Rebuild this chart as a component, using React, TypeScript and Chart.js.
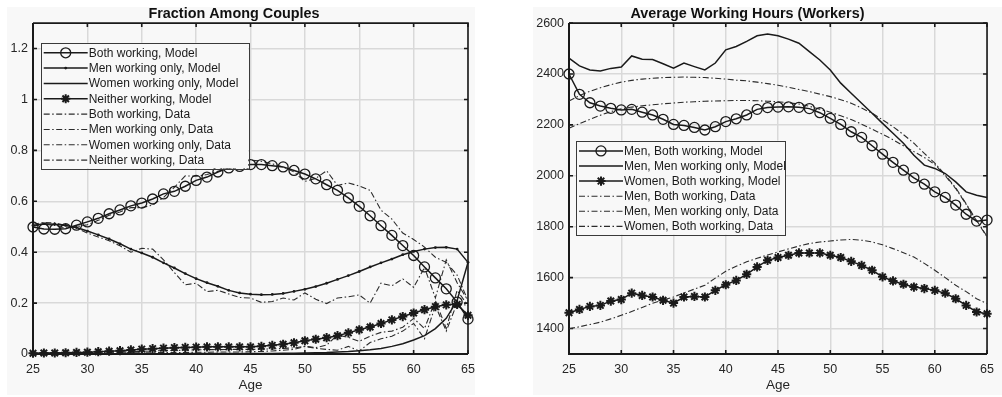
import React, { useEffect, useRef } from 'react';
import { Chart, registerables } from 'chart.js';

Chart.register(...registerables);

// ---------- data ----------
const AGES = [25,26,27,28,29,30,31,32,33,34,35,36,37,38,39,40,41,42,43,44,45,46,47,48,49,50,51,52,53,54,55,56,57,58,59,60,61,62,63,64,65];
const X_TICKS = [25,30,35,40,45,50,55,60,65];
const LEFT_Y_TICKS = [0,0.2,0.4,0.6,0.8,1,1.2];
const RIGHT_Y_TICKS = [1400,1600,1800,2000,2200,2400,2600];

const LEFT_TITLE = 'Fraction Among Couples';
const RIGHT_TITLE = 'Average Working Hours (Workers)';
const X_TITLE = 'Age';

// Left panel: fractions
const bothWorkingModel = [0.499,0.491,0.490,0.492,0.506,0.519,0.533,0.551,0.566,0.582,0.593,0.609,0.629,0.639,0.659,0.682,0.695,0.715,0.731,0.737,0.744,0.744,0.740,0.735,0.721,0.707,0.688,0.665,0.643,0.613,0.580,0.543,0.504,0.466,0.426,0.387,0.342,0.299,0.256,0.204,0.137];
const menOnlyModel = [0.505,0.512,0.510,0.505,0.497,0.483,0.468,0.452,0.433,0.412,0.397,0.380,0.358,0.338,0.316,0.296,0.280,0.266,0.250,0.240,0.235,0.233,0.234,0.238,0.246,0.254,0.265,0.278,0.293,0.308,0.324,0.342,0.358,0.373,0.390,0.403,0.412,0.418,0.419,0.412,0.360];
const womenOnlyModel = [0.001,0.001,0.001,0.001,0.001,0.001,0.001,0.001,0.001,0.001,0.001,0.001,0.001,0.001,0.002,0.002,0.002,0.002,0.002,0.002,0.002,0.002,0.002,0.003,0.003,0.004,0.005,0.006,0.008,0.010,0.013,0.017,0.022,0.030,0.040,0.055,0.072,0.100,0.140,0.210,0.360];
const neitherModel = [0.003,0.004,0.004,0.005,0.006,0.007,0.009,0.011,0.013,0.016,0.019,0.021,0.023,0.025,0.026,0.027,0.028,0.028,0.028,0.028,0.028,0.030,0.034,0.038,0.044,0.052,0.058,0.064,0.072,0.083,0.095,0.106,0.120,0.134,0.147,0.161,0.174,0.186,0.193,0.195,0.152];
const bothWorkingData = [0.502,0.510,0.505,0.495,0.500,0.508,0.525,0.545,0.558,0.575,0.575,0.585,0.615,0.655,0.700,0.698,0.705,0.718,0.728,0.745,0.762,0.757,0.747,0.735,0.715,0.678,0.690,0.720,0.662,0.672,0.660,0.643,0.565,0.530,0.475,0.450,0.420,0.380,0.360,0.310,0.210];
const menOnlyData = [0.510,0.517,0.515,0.505,0.495,0.475,0.460,0.445,0.425,0.400,0.415,0.412,0.370,0.320,0.272,0.278,0.245,0.250,0.236,0.222,0.220,0.203,0.206,0.220,0.212,0.240,0.215,0.198,0.220,0.225,0.232,0.200,0.278,0.268,0.295,0.262,0.340,0.220,0.370,0.280,0.210];
const womenOnlyData = [0.002,0.002,0.003,0.003,0.003,0.003,0.004,0.004,0.004,0.005,0.005,0.005,0.006,0.006,0.006,0.007,0.007,0.008,0.008,0.008,0.009,0.010,0.012,0.015,0.018,0.030,0.025,0.035,0.075,0.065,0.050,0.070,0.085,0.090,0.105,0.140,0.100,0.210,0.100,0.250,0.190];
const neitherData = [0.002,0.003,0.003,0.004,0.004,0.005,0.006,0.007,0.008,0.009,0.010,0.012,0.013,0.014,0.015,0.016,0.017,0.017,0.018,0.018,0.018,0.019,0.020,0.022,0.024,0.030,0.022,0.018,0.015,0.030,0.012,0.045,0.060,0.070,0.090,0.120,0.060,0.190,0.090,0.200,0.190];

// Right panel: hours
const menBothModel = [2400,2320,2287,2274,2265,2259,2261,2250,2239,2222,2202,2198,2190,2180,2193,2213,2224,2239,2261,2268,2270,2271,2269,2264,2248,2226,2202,2173,2151,2118,2085,2053,2022,1992,1967,1937,1915,1885,1849,1822,1826];
const menMenOnlyModel = [2462,2432,2416,2412,2422,2427,2471,2458,2457,2440,2423,2443,2429,2416,2443,2495,2508,2528,2550,2557,2550,2537,2521,2488,2455,2416,2364,2324,2285,2246,2206,2167,2128,2081,2042,2029,2009,1976,1937,1924,1915];
const womenBothModel = [1462,1475,1487,1491,1508,1514,1539,1530,1524,1511,1500,1524,1526,1524,1550,1572,1589,1613,1642,1668,1679,1688,1697,1697,1697,1688,1679,1664,1648,1629,1603,1587,1574,1563,1557,1550,1539,1517,1491,1465,1458];
const menBothData = [2187,2205,2222,2238,2252,2263,2270,2275,2279,2283,2286,2289,2291,2293,2294,2295,2296,2296,2295,2293,2291,2287,2282,2273,2262,2250,2236,2221,2203,2183,2163,2142,2118,2095,2072,2045,2000,1950,1888,1823,1760];
const menMenOnlyData = [2294,2315,2332,2346,2358,2368,2375,2380,2383,2386,2387,2388,2387,2386,2383,2380,2376,2373,2368,2362,2356,2348,2339,2331,2321,2311,2299,2285,2266,2246,2220,2193,2162,2128,2088,2050,2003,1953,1890,1825,1762];
const womenBothData = [1399,1407,1416,1425,1438,1452,1467,1483,1499,1512,1524,1540,1555,1570,1598,1625,1645,1662,1676,1689,1701,1713,1724,1734,1740,1744,1748,1750,1747,1740,1729,1714,1698,1681,1656,1629,1600,1570,1545,1517,1498];

// ---------- styles ----------
const FONT = "'Liberation Sans', Arial, Helvetica, sans-serif";
const PANEL_BG = '#f8f8f8';
const GRID = '#d9d9d9';
const TXT = '#262626';
const LINE = '#1a1a1a';
const DATA_LINE = '#2b2b2b';
const DASHDOT = [6, 2.5, 1.5, 2.5];

type Mk = 'o' | '.' | '*' | '';

const pts = (vals: number[]) => AGES.map((a, i) => ({ x: a, y: vals[i] }));

function modelSet(label: string, vals: number[], mk: Mk) {
  const base: any = {
    label,
    data: pts(vals),
    mk,
    borderColor: LINE,
    borderWidth: 1.5,
    tension: 0,
    clip: 8,
    pointRadius: 0,
    pointHoverRadius: 0,
  };
  if (mk === 'o') {
    Object.assign(base, { pointStyle: 'circle', pointRadius: 5, pointBorderWidth: 1.3, pointBorderColor: LINE, pointBackgroundColor: 'rgba(0,0,0,0)' });
  } else if (mk === '.') {
    Object.assign(base, { pointStyle: 'circle', pointRadius: 1.4, pointBorderWidth: 0, pointBackgroundColor: LINE });
  } else if (mk === '*') {
    Object.assign(base, { pointStyle: 'star', pointRadius: 4.6, pointBorderWidth: 2, pointBorderColor: LINE, pointBackgroundColor: LINE });
  }
  return base;
}

function dataSet(label: string, vals: number[]) {
  return {
    label,
    data: pts(vals),
    mk: '' as Mk,
    borderColor: DATA_LINE,
    borderWidth: 1.1,
    borderDash: DASHDOT,
    tension: 0,
    clip: 4,
    pointRadius: 0,
    pointHoverRadius: 0,
  };
}

function drawMarker(ctx: CanvasRenderingContext2D, mk: Mk, x: number, y: number) {
  ctx.save();
  ctx.setLineDash([]);
  ctx.strokeStyle = LINE;
  ctx.fillStyle = LINE;
  if (mk === 'o') {
    ctx.lineWidth = 1.3;
    ctx.beginPath();
    ctx.arc(x, y, 5, 0, Math.PI * 2);
    ctx.stroke();
  } else if (mk === '.') {
    ctx.beginPath();
    ctx.arc(x, y, 1.4, 0, Math.PI * 2);
    ctx.fill();
  } else if (mk === '*') {
    const r = 4.6;
    const d = r * Math.SQRT1_2;
    ctx.lineWidth = 2;
    ctx.beginPath();
    ctx.moveTo(x - r, y); ctx.lineTo(x + r, y);
    ctx.moveTo(x, y - r); ctx.lineTo(x, y + r);
    ctx.moveTo(x - d, y - d); ctx.lineTo(x + d, y + d);
    ctx.moveTo(x - d, y + d); ctx.lineTo(x + d, y - d);
    ctx.stroke();
  }
  ctx.restore();
}

const framePlugin = {
  id: 'matlabFrame',
  beforeDatasetsDraw(chart: any) {
    const { ctx, chartArea, scales } = chart;
    const { left, right, top, bottom } = chartArea;
    ctx.save();
    ctx.strokeStyle = LINE;
    ctx.setLineDash([]);
    ctx.lineWidth = 1.6;
    ctx.beginPath();
    ctx.moveTo(left, top); ctx.lineTo(right, top); ctx.lineTo(right, bottom);
    ctx.stroke();
    ctx.lineWidth = 2;
    ctx.beginPath();
    ctx.moveTo(left, top); ctx.lineTo(left, bottom); ctx.lineTo(right, bottom);
    ctx.stroke();
    ctx.lineWidth = 1.6;
    ctx.beginPath();
    const tl = 4;
    scales.x.ticks.forEach((t: any) => {
      const px = scales.x.getPixelForValue(t.value);
      ctx.moveTo(px, bottom); ctx.lineTo(px, bottom - tl);
      ctx.moveTo(px, top); ctx.lineTo(px, top + tl);
    });
    scales.y.ticks.forEach((t: any) => {
      const py = scales.y.getPixelForValue(t.value);
      ctx.moveTo(left, py); ctx.lineTo(left + tl, py);
      ctx.moveTo(right, py); ctx.lineTo(right - tl, py);
    });
    ctx.stroke();
    ctx.restore();
  },
};

const legendPlugin = {
  id: 'boxLegend',
  afterDraw(chart: any, _args: any, opts: any) {
    const { ctx, chartArea } = chart;
    const x0 = chartArea.left + opts.dx;
    const y0 = chartArea.top + opts.dy;
    const w = opts.w;
    const rowH = opts.rowH;
    const sets = chart.data.datasets;
    const h = opts.padTop + rowH * (sets.length - 1) + opts.padBottom;
    ctx.save();
    ctx.fillStyle = PANEL_BG;
    ctx.fillRect(x0, y0, w, h);
    ctx.strokeStyle = '#3a3a3a';
    ctx.lineWidth = 1;
    ctx.strokeRect(Math.round(x0) + 0.5, Math.round(y0) + 0.5, Math.round(w), Math.round(h));
    ctx.font = `12px ${FONT}`;
    ctx.textBaseline = 'middle';
    ctx.textAlign = 'left';
    sets.forEach((ds: any, i: number) => {
      const cy = y0 + opts.padTop + i * rowH;
      const sx0 = x0 + 3;
      const sx1 = x0 + 47;
      ctx.save();
      ctx.strokeStyle = ds.borderColor;
      ctx.lineWidth = ds.mk === '' && ds.borderDash ? 1.1 : 1.5;
      ctx.setLineDash(ds.borderDash || []);
      ctx.beginPath();
      ctx.moveTo(sx0, cy); ctx.lineTo(sx1, cy);
      ctx.stroke();
      ctx.restore();
      drawMarker(ctx, ds.mk, (sx0 + sx1) / 2, cy);
      ctx.fillStyle = '#1a1a1a';
      ctx.fillText(ds.label, x0 + 48, cy + 0.5);
    });
    ctx.restore();
  },
};

function makeOptions(cfg: {
  yMin: number; yMax: number; yTicks: number[]; yWidth: number; padRight: number; title: string;
  legend: any; yFmt: (v: number) => string;
}) {
  return {
    animation: false,
    responsive: false,
    devicePixelRatio: 1,
    events: [],
    layout: { padding: { left: 0, right: cfg.padRight, top: 0, bottom: 0 } },
    plugins: {
      legend: { display: false },
      tooltip: { enabled: false },
      title: {
        display: true,
        text: cfg.title,
        color: '#111',
        font: { family: FONT, size: 14.4, weight: 'bold' },
        padding: { top: 5.8, bottom: 0 },
      },
      boxLegend: cfg.legend,
    },
    scales: {
      x: {
        type: 'linear',
        min: 25,
        max: 65,
        afterBuildTicks: (ax: any) => { ax.ticks = X_TICKS.map((v) => ({ value: v })); },
        afterFit: (ax: any) => { ax.height = 43; },
        grid: { color: GRID, lineWidth: 1.5, drawTicks: false },
        border: { display: false },
        ticks: {
          padding: 8,
          color: TXT,
          font: { family: FONT, size: 12.5 },
          maxRotation: 0,
          autoSkip: false,
          callback: (v: any) => String(v),
        },
        title: {
          display: true,
          text: X_TITLE,
          color: TXT,
          font: { family: FONT, size: 13.5 },
          padding: { top: 0, bottom: 4 },
        },
      },
      y: {
        type: 'linear',
        min: cfg.yMin,
        max: cfg.yMax,
        afterBuildTicks: (ax: any) => { ax.ticks = cfg.yTicks.map((v) => ({ value: v })); },
        afterFit: (ax: any) => { ax.width = cfg.yWidth; },
        grid: { color: GRID, lineWidth: 1.5, drawTicks: false },
        border: { display: false },
        ticks: {
          padding: 5,
          color: TXT,
          font: { family: FONT, size: 12.5 },
          callback: (v: any) => cfg.yFmt(Number(v)),
        },
      },
    },
  } as any;
}

export default function App() {
  const leftRef = useRef<HTMLCanvasElement>(null);
  const rightRef = useRef<HTMLCanvasElement>(null);

  useEffect(() => {
    document.body.style.margin = '0';
    const left = new Chart(leftRef.current as HTMLCanvasElement, {
      type: 'line',
      data: {
        datasets: [
          modelSet('Both working, Model', bothWorkingModel, 'o'),
          modelSet('Men working only, Model', menOnlyModel, '.'),
          modelSet('Women working only, Model', womenOnlyModel, ''),
          modelSet('Neither working, Model', neitherModel, '*'),
          dataSet('Both working, Data', bothWorkingData),
          dataSet('Men working only, Data', menOnlyData),
          dataSet('Women working only, Data', womenOnlyData),
          dataSet('Neither working, Data', neitherData),
        ],
      },
      options: makeOptions({
        yMin: 0, yMax: 1.3, yTicks: LEFT_Y_TICKS, yWidth: 33, padRight: 22, title: LEFT_TITLE,
        legend: { dx: 7.7, dy: 19.7, w: 207.5, rowH: 15.33, padTop: 10, padBottom: 8.3 },
        yFmt: (v) => String(Number(v.toFixed(1))),
      }),
      plugins: [framePlugin, legendPlugin],
    } as any);

    const right = new Chart(rightRef.current as HTMLCanvasElement, {
      type: 'line',
      data: {
        datasets: [
          modelSet('Men, Both working, Model', menBothModel, 'o'),
          modelSet('Men, Men working only, Model', menMenOnlyModel, ''),
          modelSet('Women, Both working, Model', womenBothModel, '*'),
          dataSet('Men, Both working, Data', menBothData),
          dataSet('Men, Men working only, Data', menMenOnlyData),
          dataSet('Women, Both working, Data', womenBothData),
        ],
      },
      options: makeOptions({
        yMin: 1300, yMax: 2600, yTicks: RIGHT_Y_TICKS, yWidth: 69, padRight: 7, title: RIGHT_TITLE,
        legend: { dx: 7, dy: 117.5, w: 209, rowH: 15.1, padTop: 10.3, padBottom: 8.3 },
        yFmt: (v) => String(Math.round(v)),
      }),
      plugins: [framePlugin, legendPlugin],
    } as any);

    return () => {
      left.destroy();
      right.destroy();
    };
  }, []);

  return (
    <div style={{ position: 'relative', width: 1002, height: 397, background: '#ffffff', overflow: 'hidden' }}>
      <div style={{ position: 'absolute', left: 7, top: 7, width: 468, height: 388, background: PANEL_BG }} />
      <div style={{ position: 'absolute', left: 533, top: 7, width: 469, height: 388, background: PANEL_BG }} />
      <canvas ref={leftRef} width={490} height={397} style={{ position: 'absolute', left: 0, top: 0, width: 490, height: 397 }} />
      <canvas ref={rightRef} width={502} height={397} style={{ position: 'absolute', left: 500, top: 0, width: 502, height: 397 }} />
    </div>
  );
}
